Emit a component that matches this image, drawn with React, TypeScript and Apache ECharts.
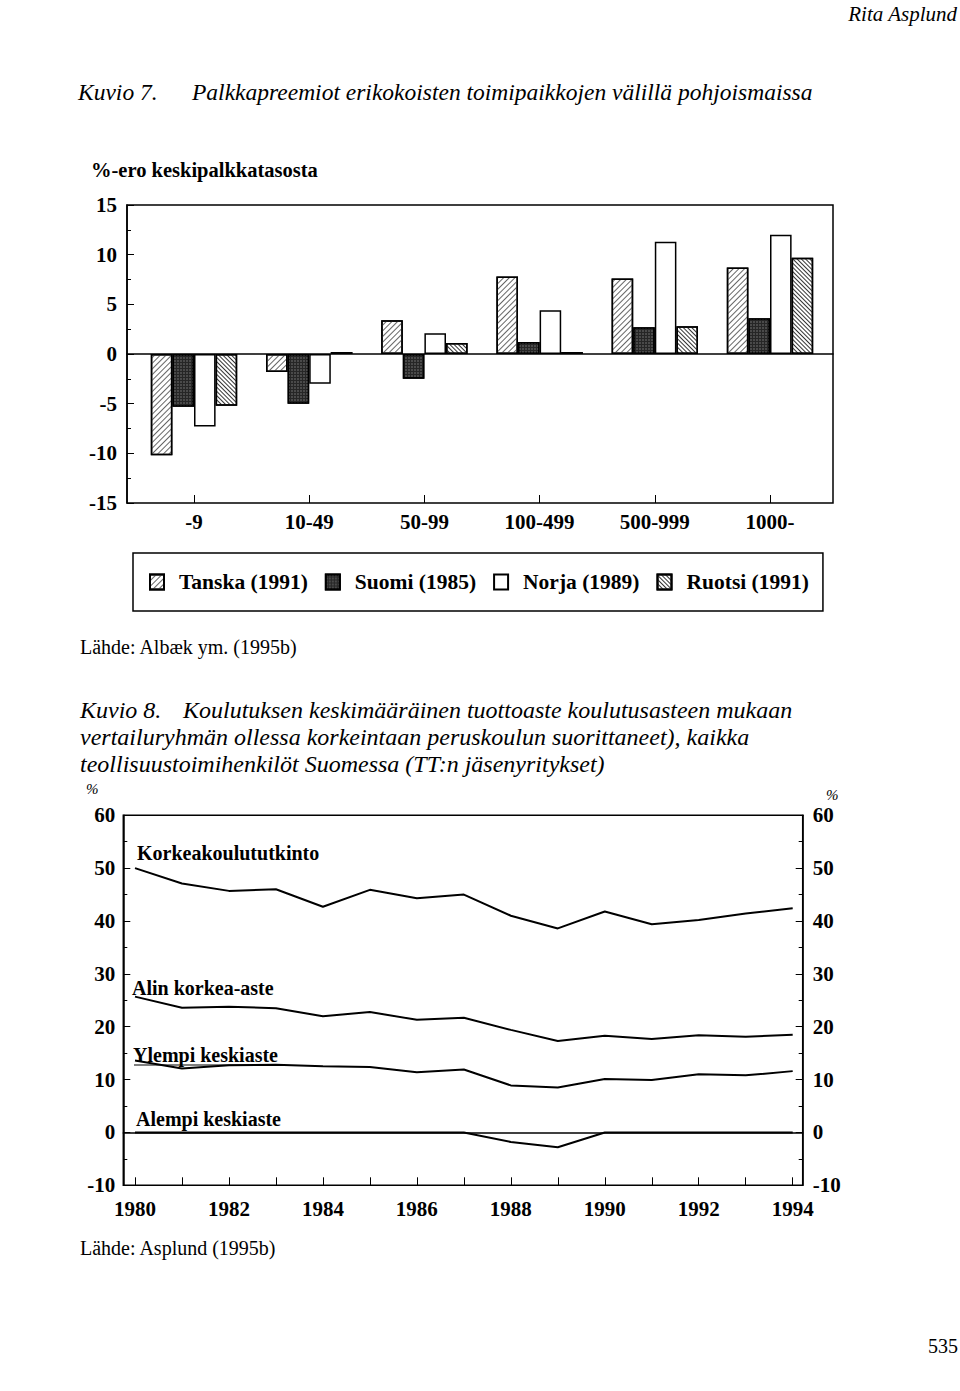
import React, { useEffect, useRef } from "react";
import * as echarts from "echarts";

// ---- Kuvio 7 data ----
const sizeClasses = ["-9", "10-49", "50-99", "100-499", "500-999", "1000-"];
const tanska = [-10.2, -1.8, 3.4, 7.8, 7.6, 8.7];
const suomi = [-5.3, -5.0, -2.5, 1.2, 2.7, 3.6];
const norja = [-7.3, -3.0, 2.1, 4.4, 11.3, 12.0];
const ruotsi = [-5.2, 0.2, 1.1, 0.2, 2.8, 9.7];
const barNames = ["Tanska (1991)", "Suomi (1985)", "Norja (1989)", "Ruotsi (1991)"];

// ---- Kuvio 8 data ----
const years = [
  "1980", "1981", "1982", "1983", "1984", "1985", "1986", "1987",
  "1988", "1989", "1990", "1991", "1992", "1993", "1994",
];
const korkeakoulu = [50.0, 47.1, 45.7, 46.0, 42.7, 45.9, 44.3, 45.0, 41.0, 38.6, 41.8, 39.4, 40.2, 41.4, 42.4];
const alinKorkea = [25.7, 23.6, 23.8, 23.5, 22.0, 22.8, 21.3, 21.7, 19.4, 17.3, 18.3, 17.7, 18.4, 18.1, 18.5];
const ylempiKeski = [13.6, 12.1, 12.7, 12.8, 12.5, 12.4, 11.4, 11.9, 8.9, 8.5, 10.1, 9.9, 11.0, 10.8, 11.6];
const alempiKeski = [0, 0, 0, 0, 0, 0, 0, 0, -1.8, -2.8, 0, 0, 0, 0, 0];
const lineNames = ["Korkeakoulututkinto", "Alin korkea-aste", "Ylempi keskiaste", "Alempi keskiaste"];

const serif = '"Liberation Serif", "Times New Roman", serif';

function txt(text: string, x: number, y: number, font: string, align = "left") {
  return {
    type: "text",
    x,
    y,
    silent: true,
    style: {
      text,
      font,
      fill: "#000",
      align,
      textAlign: align,
      verticalAlign: "middle",
      textVerticalAlign: "middle",
    },
  };
}

export default function App() {
  const ref = useRef<HTMLDivElement>(null);

  useEffect(() => {
    if (!ref.current) return;
    const chart = echarts.init(ref.current, null, { renderer: "svg" });

    const barBase = {
      type: "bar",
      xAxisIndex: 0,
      yAxisIndex: 0,
      barGap: "0%",
      barCategoryGap: "25%",
      silent: true,
    };

    const valueAxisCommon = {
      type: "value",
      axisLine: { show: true, lineStyle: { color: "#000", width: 1.5 } },
      axisTick: { show: true, inside: true, length: 7, lineStyle: { color: "#000", width: 1 } },
      minorTick: { show: true, splitNumber: 2, length: 4, lineStyle: { color: "#000", width: 1 } },
      splitLine: { show: false },
    };

    const tickLabel = { fontSize: 21, fontWeight: "bold", color: "#000", fontFamily: serif };

    const option = {
      animation: false,
      backgroundColor: "#fff",
      textStyle: { fontFamily: serif, color: "#000" },
      grid: [
        { left: 136.4, top: 205, width: 691.2, height: 298 },
        { left: 127, top: 205, width: 706, height: 298, show: true, borderColor: "#000", borderWidth: 1.5 },
        { left: 135, top: 815.3, width: 657.7, height: 370 },
        { left: 123.3, top: 815.3, width: 679.4, height: 370, show: true, borderColor: "#000", borderWidth: 1.5 },
      ],
      xAxis: [
        {
          gridIndex: 0,
          type: "category",
          data: sizeClasses,
          axisLine: { show: false, onZero: false },
          axisTick: { show: true, inside: true, alignWithLabel: true, length: 8, lineStyle: { color: "#000", width: 1 } },
          axisLabel: { ...tickLabel, margin: 8 },
          splitLine: { show: false },
        },
        {
          gridIndex: 1,
          type: "value",
          min: 0,
          max: 1,
          axisLine: { show: true, onZero: true, lineStyle: { color: "#000", width: 1.5 } },
          axisTick: { show: false },
          axisLabel: { show: false },
          splitLine: { show: false },
        },
        {
          gridIndex: 2,
          type: "category",
          data: years,
          boundaryGap: false,
          axisLine: { show: false, onZero: false },
          axisTick: { show: true, inside: true, interval: 0, length: 8, lineStyle: { color: "#000", width: 1 } },
          axisLabel: { ...tickLabel, interval: 1, margin: 13 },
          splitLine: { show: false },
        },
        {
          gridIndex: 3,
          type: "value",
          min: 0,
          max: 1,
          axisLine: { show: true, onZero: true, lineStyle: { color: "#000", width: 1.5 } },
          axisTick: { show: false },
          axisLabel: { show: false },
          splitLine: { show: false },
        },
      ],
      yAxis: [
        { gridIndex: 0, type: "value", min: -15, max: 15, show: false },
        {
          ...valueAxisCommon,
          gridIndex: 1,
          min: -15,
          max: 15,
          interval: 5,
          position: "left",
          axisLabel: { ...tickLabel, margin: 10 },
        },
        { gridIndex: 2, type: "value", min: -10, max: 60, show: false },
        {
          ...valueAxisCommon,
          gridIndex: 3,
          min: -10,
          max: 60,
          interval: 10,
          position: "left",
          axisLabel: { ...tickLabel, margin: 8 },
        },
        {
          ...valueAxisCommon,
          gridIndex: 3,
          min: -10,
          max: 60,
          interval: 10,
          position: "right",
          axisLabel: { ...tickLabel, margin: 10 },
        },
      ],
      legend: {
        left: 133,
        top: 553,
        orient: "horizontal",
        itemWidth: 14,
        itemHeight: 15,
        itemGap: 17,
        padding: [18, 14, 18, 16],
        borderColor: "#000",
        borderWidth: 1.5,
        icon: "rect",
        selectedMode: false,
        textStyle: { fontSize: 21.5, fontWeight: "bold", color: "#000", fontFamily: serif, padding: [0, 0, 0, 10] },
        data: barNames,
      },
      series: [
        {
          ...barBase,
          name: barNames[0],
          data: tanska,
          itemStyle: {
            color: "#fff",
            borderColor: "#000",
            borderWidth: 1.5,
            decal: {
              symbol: "rect",
              symbolSize: 1,
              dashArrayX: [1, 0],
              dashArrayY: [1, 3],
              rotation: -Math.PI / 4,
              color: "#666",
            },
          },
        },
        {
          ...barBase,
          name: barNames[1],
          data: suomi,
          itemStyle: {
            color: "#262626",
            borderColor: "#000",
            borderWidth: 1.5,
            decal: {
              symbol: "rect",
              symbolSize: 0.7,
              dashArrayX: [2, 1],
              dashArrayY: [2, 1],
              rotation: 0,
              color: "#6a6a6a",
            },
          },
        },
        {
          ...barBase,
          name: barNames[2],
          data: norja,
          itemStyle: { color: "#fff", borderColor: "#000", borderWidth: 1.5 },
        },
        {
          ...barBase,
          name: barNames[3],
          data: ruotsi,
          itemStyle: {
            color: "#fff",
            borderColor: "#000",
            borderWidth: 1.5,
            decal: {
              symbol: "rect",
              symbolSize: 1,
              dashArrayX: [1, 0],
              dashArrayY: [1, 2],
              rotation: Math.PI / 4,
              color: "#333",
            },
          },
        },
        ...[korkeakoulu, alinKorkea, ylempiKeski, alempiKeski].map((d, i) => ({
          type: "line",
          name: lineNames[i],
          xAxisIndex: 2,
          yAxisIndex: 2,
          data: d,
          symbol: "none",
          showSymbol: false,
          silent: true,
          lineStyle: { color: "#000", width: 2 },
        })),
      ],
      graphic: [
        txt("Rita Asplund", 957, 14, `italic 21px ${serif}`, "right"),
        txt("Kuvio 7.", 78, 92, `italic 23.5px ${serif}`),
        txt("Palkkapreemiot erikokoisten toimipaikkojen välillä pohjoismaissa", 192, 92, `italic 23.5px ${serif}`),
        txt("%-ero keskipalkkatasosta", 91, 170, `bold 20.5px ${serif}`),
        txt("Lähde: Albæk ym. (1995b)", 80, 647, `20px ${serif}`),
        txt("Kuvio 8.", 80, 710, `italic 24px ${serif}`),
        txt("Koulutuksen keskimääräinen tuottoaste koulutusasteen mukaan", 183, 710, `italic 24px ${serif}`),
        txt("vertailuryhmän ollessa korkeintaan peruskoulun suorittaneet), kaikka", 80, 737, `italic 24px ${serif}`),
        txt("teollisuustoimihenkilöt Suomessa (TT:n jäsenyritykset)", 80, 764, `italic 24px ${serif}`),
        txt("%", 86, 789, `italic 15px ${serif}`),
        txt("%", 826, 795, `italic 15px ${serif}`),
        txt("Korkeakoulututkinto", 137, 853, `bold 20px ${serif}`),
        txt("Alin korkea-aste", 132, 988, `bold 20px ${serif}`),
        txt("Ylempi keskiaste", 133, 1055, `bold 20px ${serif}`),
        {
          type: "line",
          silent: true,
          shape: { x1: 134, y1: 1065, x2: 279, y2: 1065 },
          style: { stroke: "#000", lineWidth: 1.2 },
        },
        txt("Alempi keskiaste", 136, 1119, `bold 20px ${serif}`),
        txt("Lähde: Asplund (1995b)", 80, 1248, `20px ${serif}`),
        txt("535", 958, 1346, `20px ${serif}`, "right"),
      ],
    };

    chart.setOption(option as any);
    return () => chart.dispose();
  }, []);

  return (
    <div
      ref={ref}
      style={{ position: "absolute", left: 0, top: 0, width: 960, height: 1391, background: "#fff" }}
    />
  );
}
